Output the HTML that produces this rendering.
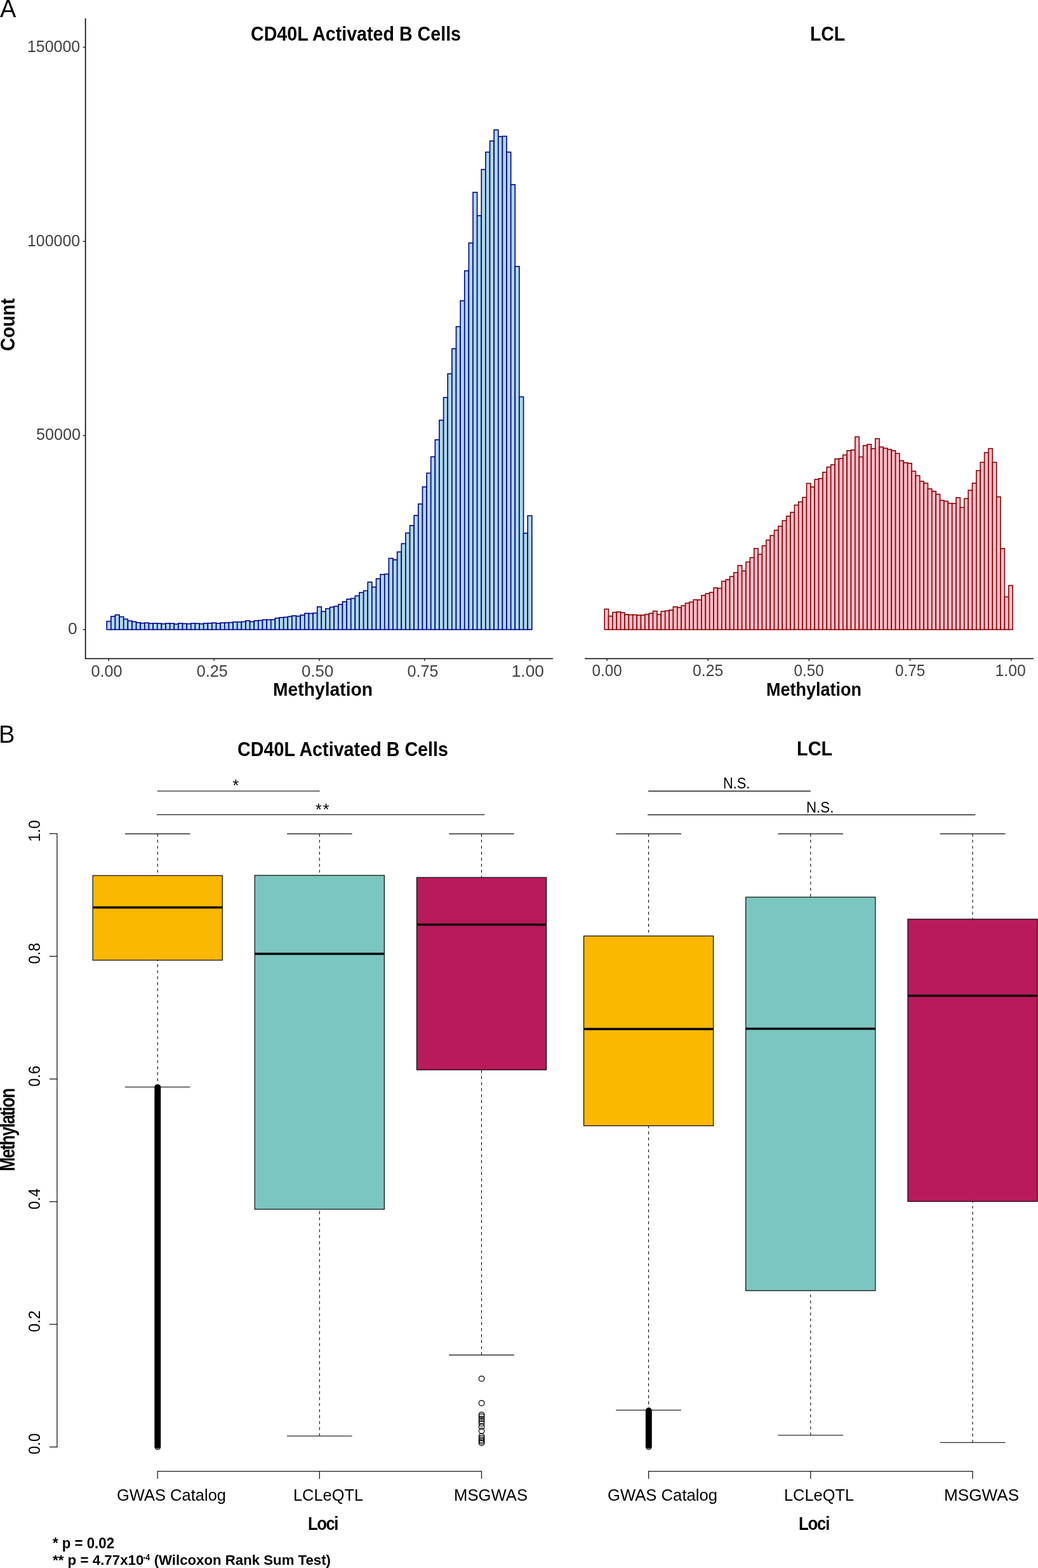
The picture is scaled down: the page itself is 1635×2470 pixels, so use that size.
<!DOCTYPE html><html><head><meta charset="utf-8"><title>Methylation figure</title><style>html,body{margin:0;padding:0;background:#fff;}svg{display:block;}text{font-family:'Liberation Sans', Arial, Helvetica, sans-serif;}</style></head><body>
<svg width="1635" height="2470" viewBox="0 0 1635 2470">
<rect width="1635" height="2470" fill="#fff"/>
<text x="0" y="26.6" font-size="38">A</text>
<path d="M134.6 29 L134.6 1037.5 L871 1037.5" fill="none" stroke="#000" stroke-width="1.6" stroke-linejoin="round"/>
<path d="M921 1037.5 L1628 1037.5" fill="none" stroke="#000" stroke-width="1.6"/>
<line x1="130.6" y1="74.4" x2="134.6" y2="74.4" stroke="#222" stroke-width="1.4"/>
<line x1="130.6" y1="380.3" x2="134.6" y2="380.3" stroke="#222" stroke-width="1.4"/>
<line x1="130.6" y1="686.2" x2="134.6" y2="686.2" stroke="#222" stroke-width="1.4"/>
<line x1="130.6" y1="991.7" x2="134.6" y2="991.7" stroke="#222" stroke-width="1.4"/>
<line x1="171.30" y1="1037.5" x2="171.30" y2="1041.3" stroke="#222" stroke-width="1.4"/>
<line x1="337.13" y1="1037.5" x2="337.13" y2="1041.3" stroke="#222" stroke-width="1.4"/>
<line x1="502.96" y1="1037.5" x2="502.96" y2="1041.3" stroke="#222" stroke-width="1.4"/>
<line x1="668.79" y1="1037.5" x2="668.79" y2="1041.3" stroke="#222" stroke-width="1.4"/>
<line x1="834.62" y1="1037.5" x2="834.62" y2="1041.3" stroke="#222" stroke-width="1.4"/>
<line x1="956.10" y1="1037.5" x2="956.10" y2="1041.3" stroke="#222" stroke-width="1.4"/>
<line x1="1115.25" y1="1037.5" x2="1115.25" y2="1041.3" stroke="#222" stroke-width="1.4"/>
<line x1="1274.40" y1="1037.5" x2="1274.40" y2="1041.3" stroke="#222" stroke-width="1.4"/>
<line x1="1433.55" y1="1037.5" x2="1433.55" y2="1041.3" stroke="#222" stroke-width="1.4"/>
<line x1="1592.70" y1="1037.5" x2="1592.70" y2="1041.3" stroke="#222" stroke-width="1.4"/>
<g fill="#ADD8E6" stroke="#00008B" stroke-width="1.6"><rect x="168.20" y="978.70" width="6.630" height="13.00"/><rect x="174.83" y="971.00" width="6.630" height="20.70"/><rect x="181.46" y="968.60" width="6.630" height="23.10"/><rect x="188.09" y="971.60" width="6.630" height="20.10"/><rect x="194.72" y="975.30" width="6.630" height="16.40"/><rect x="201.35" y="978.10" width="6.630" height="13.60"/><rect x="207.98" y="979.30" width="6.630" height="12.40"/><rect x="214.61" y="980.80" width="6.630" height="10.90"/><rect x="221.24" y="981.60" width="6.630" height="10.10"/><rect x="227.87" y="981.20" width="6.630" height="10.50"/><rect x="234.50" y="982.10" width="6.630" height="9.60"/><rect x="241.13" y="981.80" width="6.630" height="9.90"/><rect x="247.76" y="982.10" width="6.630" height="9.60"/><rect x="254.39" y="982.70" width="6.630" height="9.00"/><rect x="261.02" y="981.90" width="6.630" height="9.80"/><rect x="267.65" y="982.10" width="6.630" height="9.60"/><rect x="274.28" y="983.10" width="6.630" height="8.60"/><rect x="280.91" y="981.80" width="6.630" height="9.90"/><rect x="287.54" y="982.40" width="6.630" height="9.30"/><rect x="294.17" y="982.70" width="6.630" height="9.00"/><rect x="300.80" y="981.90" width="6.630" height="9.80"/><rect x="307.43" y="982.10" width="6.630" height="9.60"/><rect x="314.06" y="982.70" width="6.630" height="9.00"/><rect x="320.69" y="981.80" width="6.630" height="9.90"/><rect x="327.32" y="981.70" width="6.630" height="10.00"/><rect x="333.95" y="981.20" width="6.630" height="10.50"/><rect x="340.58" y="981.90" width="6.630" height="9.80"/><rect x="347.21" y="981.20" width="6.630" height="10.50"/><rect x="353.84" y="981.00" width="6.630" height="10.70"/><rect x="360.47" y="980.60" width="6.630" height="11.10"/><rect x="367.10" y="979.80" width="6.630" height="11.90"/><rect x="373.73" y="979.80" width="6.630" height="11.90"/><rect x="380.36" y="979.40" width="6.630" height="12.30"/><rect x="386.99" y="977.70" width="6.630" height="14.00"/><rect x="393.62" y="979.40" width="6.630" height="12.30"/><rect x="400.25" y="977.80" width="6.630" height="13.90"/><rect x="406.88" y="977.30" width="6.630" height="14.40"/><rect x="413.51" y="976.30" width="6.630" height="15.40"/><rect x="420.14" y="976.30" width="6.630" height="15.40"/><rect x="426.77" y="976.20" width="6.630" height="15.50"/><rect x="433.40" y="973.70" width="6.630" height="18.00"/><rect x="440.03" y="972.70" width="6.630" height="19.00"/><rect x="446.66" y="972.30" width="6.630" height="19.40"/><rect x="453.29" y="971.20" width="6.630" height="20.50"/><rect x="459.92" y="970.00" width="6.630" height="21.70"/><rect x="466.55" y="970.60" width="6.630" height="21.10"/><rect x="473.18" y="968.90" width="6.630" height="22.80"/><rect x="479.81" y="966.20" width="6.630" height="25.50"/><rect x="486.44" y="966.40" width="6.630" height="25.30"/><rect x="493.07" y="965.70" width="6.630" height="26.00"/><rect x="499.70" y="955.90" width="6.630" height="35.80"/><rect x="506.33" y="963.30" width="6.630" height="28.40"/><rect x="512.96" y="958.70" width="6.630" height="33.00"/><rect x="519.59" y="956.40" width="6.630" height="35.30"/><rect x="526.22" y="955.10" width="6.630" height="36.60"/><rect x="532.85" y="952.20" width="6.630" height="39.50"/><rect x="539.48" y="947.80" width="6.630" height="43.90"/><rect x="546.11" y="943.80" width="6.630" height="47.90"/><rect x="552.74" y="942.60" width="6.630" height="49.10"/><rect x="559.37" y="938.60" width="6.630" height="53.10"/><rect x="566.00" y="933.40" width="6.630" height="58.30"/><rect x="572.63" y="930.50" width="6.630" height="61.20"/><rect x="579.26" y="917.00" width="6.630" height="74.70"/><rect x="585.89" y="924.70" width="6.630" height="67.00"/><rect x="592.52" y="911.60" width="6.630" height="80.10"/><rect x="599.15" y="904.90" width="6.630" height="86.80"/><rect x="605.78" y="904.40" width="6.630" height="87.30"/><rect x="612.41" y="879.50" width="6.630" height="112.20"/><rect x="619.04" y="881.80" width="6.630" height="109.90"/><rect x="625.67" y="869.40" width="6.630" height="122.30"/><rect x="632.30" y="856.40" width="6.630" height="135.30"/><rect x="638.93" y="839.60" width="6.630" height="152.10"/><rect x="645.56" y="827.90" width="6.630" height="163.80"/><rect x="652.19" y="812.00" width="6.630" height="179.70"/><rect x="658.82" y="793.90" width="6.630" height="197.80"/><rect x="665.45" y="767.00" width="6.630" height="224.70"/><rect x="672.08" y="745.30" width="6.630" height="246.40"/><rect x="678.71" y="719.50" width="6.630" height="272.20"/><rect x="685.34" y="692.70" width="6.630" height="299.00"/><rect x="691.97" y="661.90" width="6.630" height="329.80"/><rect x="698.60" y="626.20" width="6.630" height="365.50"/><rect x="705.23" y="588.70" width="6.630" height="403.00"/><rect x="711.86" y="549.30" width="6.630" height="442.40"/><rect x="718.49" y="514.50" width="6.630" height="477.20"/><rect x="725.12" y="473.80" width="6.630" height="517.90"/><rect x="731.75" y="426.50" width="6.630" height="565.20"/><rect x="738.38" y="382.70" width="6.630" height="609.00"/><rect x="745.01" y="303.00" width="6.630" height="688.70"/><rect x="751.64" y="339.70" width="6.630" height="652.00"/><rect x="758.27" y="267.00" width="6.630" height="724.70"/><rect x="764.90" y="239.60" width="6.630" height="752.10"/><rect x="771.53" y="222.00" width="6.630" height="769.70"/><rect x="778.16" y="204.60" width="6.630" height="787.10"/><rect x="784.79" y="215.20" width="6.630" height="776.50"/><rect x="791.42" y="214.60" width="6.630" height="777.10"/><rect x="798.05" y="239.60" width="6.630" height="752.10"/><rect x="804.68" y="290.80" width="6.630" height="700.90"/><rect x="811.31" y="419.70" width="6.630" height="572.00"/><rect x="817.94" y="625.20" width="6.630" height="366.50"/><rect x="824.57" y="839.90" width="6.630" height="151.80"/><rect x="831.20" y="812.40" width="6.630" height="179.30"/></g>
<g fill="#FFC0CB" stroke="#8B0000" stroke-width="1.6"><rect x="952.20" y="959.50" width="6.366" height="32.20"/><rect x="958.57" y="970.60" width="6.366" height="21.10"/><rect x="964.93" y="964.50" width="6.366" height="27.20"/><rect x="971.30" y="963.90" width="6.366" height="27.80"/><rect x="977.66" y="965.10" width="6.366" height="26.60"/><rect x="984.03" y="968.10" width="6.366" height="23.60"/><rect x="990.40" y="968.50" width="6.366" height="23.20"/><rect x="996.76" y="968.50" width="6.366" height="23.20"/><rect x="1003.13" y="969.10" width="6.366" height="22.60"/><rect x="1009.49" y="969.10" width="6.366" height="22.60"/><rect x="1015.86" y="967.70" width="6.366" height="24.00"/><rect x="1022.23" y="966.20" width="6.366" height="25.50"/><rect x="1028.59" y="962.60" width="6.366" height="29.10"/><rect x="1034.96" y="968.10" width="6.366" height="23.60"/><rect x="1041.32" y="963.00" width="6.366" height="28.70"/><rect x="1047.69" y="962.20" width="6.366" height="29.50"/><rect x="1054.06" y="961.00" width="6.366" height="30.70"/><rect x="1060.42" y="955.90" width="6.366" height="35.80"/><rect x="1066.79" y="957.10" width="6.366" height="34.60"/><rect x="1073.15" y="954.10" width="6.366" height="37.60"/><rect x="1079.52" y="950.20" width="6.366" height="41.50"/><rect x="1085.89" y="948.40" width="6.366" height="43.30"/><rect x="1092.25" y="944.70" width="6.366" height="47.00"/><rect x="1098.62" y="945.00" width="6.366" height="46.70"/><rect x="1104.98" y="937.90" width="6.366" height="53.80"/><rect x="1111.35" y="935.00" width="6.366" height="56.70"/><rect x="1117.72" y="933.20" width="6.366" height="58.50"/><rect x="1124.08" y="926.10" width="6.366" height="65.60"/><rect x="1130.45" y="926.70" width="6.366" height="65.00"/><rect x="1136.81" y="915.60" width="6.366" height="76.10"/><rect x="1143.18" y="913.10" width="6.366" height="78.60"/><rect x="1149.55" y="908.20" width="6.366" height="83.50"/><rect x="1155.91" y="902.00" width="6.366" height="89.70"/><rect x="1162.28" y="890.70" width="6.366" height="101.00"/><rect x="1168.64" y="899.30" width="6.366" height="92.40"/><rect x="1175.01" y="885.30" width="6.366" height="106.40"/><rect x="1181.38" y="878.40" width="6.366" height="113.30"/><rect x="1187.74" y="864.00" width="6.366" height="127.70"/><rect x="1194.11" y="873.30" width="6.366" height="118.40"/><rect x="1200.47" y="859.70" width="6.366" height="132.00"/><rect x="1206.84" y="850.80" width="6.366" height="140.90"/><rect x="1213.21" y="843.50" width="6.366" height="148.20"/><rect x="1219.57" y="835.30" width="6.366" height="156.40"/><rect x="1225.94" y="828.90" width="6.366" height="162.80"/><rect x="1232.30" y="820.10" width="6.366" height="171.60"/><rect x="1238.67" y="813.10" width="6.366" height="178.60"/><rect x="1245.04" y="807.10" width="6.366" height="184.60"/><rect x="1251.40" y="795.60" width="6.366" height="196.10"/><rect x="1257.77" y="790.50" width="6.366" height="201.20"/><rect x="1264.13" y="783.50" width="6.366" height="208.20"/><rect x="1270.50" y="761.50" width="6.366" height="230.20"/><rect x="1276.87" y="767.20" width="6.366" height="224.50"/><rect x="1283.23" y="755.20" width="6.366" height="236.50"/><rect x="1289.60" y="753.80" width="6.366" height="237.90"/><rect x="1295.96" y="744.00" width="6.366" height="247.70"/><rect x="1302.33" y="735.70" width="6.366" height="256.00"/><rect x="1308.70" y="732.10" width="6.366" height="259.60"/><rect x="1315.06" y="722.90" width="6.366" height="268.80"/><rect x="1321.43" y="722.30" width="6.366" height="269.40"/><rect x="1327.79" y="716.60" width="6.366" height="275.10"/><rect x="1334.16" y="709.80" width="6.366" height="281.90"/><rect x="1340.53" y="708.90" width="6.366" height="282.80"/><rect x="1346.89" y="688.20" width="6.366" height="303.50"/><rect x="1353.26" y="719.70" width="6.366" height="272.00"/><rect x="1359.62" y="701.90" width="6.366" height="289.80"/><rect x="1365.99" y="700.00" width="6.366" height="291.70"/><rect x="1372.36" y="706.70" width="6.366" height="285.00"/><rect x="1378.72" y="691.00" width="6.366" height="300.70"/><rect x="1385.09" y="704.20" width="6.366" height="287.50"/><rect x="1391.45" y="706.10" width="6.366" height="285.60"/><rect x="1397.82" y="707.90" width="6.366" height="283.80"/><rect x="1404.19" y="709.80" width="6.366" height="281.90"/><rect x="1410.55" y="714.30" width="6.366" height="277.40"/><rect x="1416.92" y="725.70" width="6.366" height="266.00"/><rect x="1423.28" y="728.90" width="6.366" height="262.80"/><rect x="1429.65" y="729.80" width="6.366" height="261.90"/><rect x="1436.02" y="742.30" width="6.366" height="249.40"/><rect x="1442.38" y="749.30" width="6.366" height="242.40"/><rect x="1448.75" y="758.20" width="6.366" height="233.50"/><rect x="1455.11" y="761.20" width="6.366" height="230.50"/><rect x="1461.48" y="770.10" width="6.366" height="221.60"/><rect x="1467.85" y="773.80" width="6.366" height="217.90"/><rect x="1474.21" y="778.60" width="6.366" height="213.10"/><rect x="1480.58" y="788.20" width="6.366" height="203.50"/><rect x="1486.94" y="789.50" width="6.366" height="202.20"/><rect x="1493.31" y="792.70" width="6.366" height="199.00"/><rect x="1499.68" y="793.10" width="6.366" height="198.60"/><rect x="1506.04" y="783.80" width="6.366" height="207.90"/><rect x="1512.41" y="799.40" width="6.366" height="192.30"/><rect x="1518.77" y="785.40" width="6.366" height="206.30"/><rect x="1525.14" y="772.30" width="6.366" height="219.40"/><rect x="1531.51" y="761.20" width="6.366" height="230.50"/><rect x="1537.87" y="741.30" width="6.366" height="250.40"/><rect x="1544.24" y="728.30" width="6.366" height="263.40"/><rect x="1550.60" y="713.00" width="6.366" height="278.70"/><rect x="1556.97" y="706.60" width="6.366" height="285.10"/><rect x="1563.34" y="728.30" width="6.366" height="263.40"/><rect x="1569.70" y="782.70" width="6.366" height="209.00"/><rect x="1576.07" y="864.20" width="6.366" height="127.50"/><rect x="1582.43" y="940.30" width="6.366" height="51.40"/><rect x="1588.80" y="922.30" width="6.366" height="69.40"/></g>
<text x="-2" y="1170.2" font-size="38">B</text>
<path d="M89.9 1313.20 L89.9 2279.40" fill="none" stroke="#1a1a1a" stroke-width="1.3"/>
<line x1="78" y1="2279.40" x2="90.5" y2="2279.40" stroke="#1a1a1a" stroke-width="1.3"/>
<line x1="78" y1="2086.16" x2="90.5" y2="2086.16" stroke="#1a1a1a" stroke-width="1.3"/>
<line x1="78" y1="1892.92" x2="90.5" y2="1892.92" stroke="#1a1a1a" stroke-width="1.3"/>
<line x1="78" y1="1699.68" x2="90.5" y2="1699.68" stroke="#1a1a1a" stroke-width="1.3"/>
<line x1="78" y1="1506.44" x2="90.5" y2="1506.44" stroke="#1a1a1a" stroke-width="1.3"/>
<line x1="78" y1="1313.20" x2="90.5" y2="1313.20" stroke="#1a1a1a" stroke-width="1.3"/>
<line x1="248.2" y1="1313.5" x2="248.2" y2="1379.2" stroke="#000" stroke-width="1.1" stroke-dasharray="4.4 5.05"/>
<line x1="248.2" y1="1712.4" x2="248.2" y2="1512.5" stroke="#000" stroke-width="1.1" stroke-dasharray="4.4 5.05"/>
<line x1="196.90" y1="1313.5" x2="299.50" y2="1313.5" stroke="#2a2a2a" stroke-width="1.3"/>
<line x1="196.90" y1="1712.4" x2="299.50" y2="1712.4" stroke="#2a2a2a" stroke-width="1.3"/>
<rect x="146.15" y="1379.2" width="204.10" height="133.30" fill="#FAB800" stroke="#000" stroke-width="1.15"/>
<line x1="146.15" y1="1429.5" x2="350.25" y2="1429.5" stroke="#000" stroke-width="3.5"/>
<line x1="503.3" y1="1313.5" x2="503.3" y2="1378.9" stroke="#000" stroke-width="1.1" stroke-dasharray="4.4 5.05"/>
<line x1="503.3" y1="2262.1" x2="503.3" y2="1904.9" stroke="#000" stroke-width="1.1" stroke-dasharray="4.4 5.05"/>
<line x1="452.00" y1="1313.5" x2="554.60" y2="1313.5" stroke="#2a2a2a" stroke-width="1.3"/>
<line x1="452.00" y1="2262.1" x2="554.60" y2="2262.1" stroke="#2a2a2a" stroke-width="1.3"/>
<rect x="401.25" y="1378.9" width="204.10" height="526.00" fill="#7BC6BF" stroke="#000" stroke-width="1.15"/>
<line x1="401.25" y1="1502.6" x2="605.35" y2="1502.6" stroke="#000" stroke-width="3.5"/>
<line x1="758.5" y1="1313.5" x2="758.5" y2="1382.2" stroke="#000" stroke-width="1.1" stroke-dasharray="4.4 5.05"/>
<line x1="758.5" y1="2134.5" x2="758.5" y2="1685.3" stroke="#000" stroke-width="1.1" stroke-dasharray="4.4 5.05"/>
<line x1="707.20" y1="1313.5" x2="809.80" y2="1313.5" stroke="#2a2a2a" stroke-width="1.3"/>
<line x1="707.20" y1="2134.5" x2="809.80" y2="2134.5" stroke="#2a2a2a" stroke-width="1.3"/>
<rect x="656.45" y="1382.2" width="204.10" height="303.10" fill="#B81A5C" stroke="#000" stroke-width="1.15"/>
<line x1="656.45" y1="1456.5" x2="860.55" y2="1456.5" stroke="#000" stroke-width="3.5"/>
<line x1="1021.6" y1="1313.5" x2="1021.6" y2="1474.4" stroke="#000" stroke-width="1.1" stroke-dasharray="4.4 5.05"/>
<line x1="1021.6" y1="2221.4" x2="1021.6" y2="1773.4" stroke="#000" stroke-width="1.1" stroke-dasharray="4.4 5.05"/>
<line x1="970.30" y1="1313.5" x2="1072.90" y2="1313.5" stroke="#2a2a2a" stroke-width="1.3"/>
<line x1="970.30" y1="2221.4" x2="1072.90" y2="2221.4" stroke="#2a2a2a" stroke-width="1.3"/>
<rect x="919.55" y="1474.4" width="204.10" height="299.00" fill="#FAB800" stroke="#000" stroke-width="1.15"/>
<line x1="919.55" y1="1621.0" x2="1123.65" y2="1621.0" stroke="#000" stroke-width="3.5"/>
<line x1="1276.8" y1="1313.5" x2="1276.8" y2="1413.2" stroke="#000" stroke-width="1.1" stroke-dasharray="4.4 5.05"/>
<line x1="1276.8" y1="2260.9" x2="1276.8" y2="2033.1" stroke="#000" stroke-width="1.1" stroke-dasharray="4.4 5.05"/>
<line x1="1225.50" y1="1313.5" x2="1328.10" y2="1313.5" stroke="#2a2a2a" stroke-width="1.3"/>
<line x1="1225.50" y1="2260.9" x2="1328.10" y2="2260.9" stroke="#2a2a2a" stroke-width="1.3"/>
<rect x="1174.75" y="1413.2" width="204.10" height="619.90" fill="#7BC6BF" stroke="#000" stroke-width="1.15"/>
<line x1="1174.75" y1="1620.4" x2="1378.85" y2="1620.4" stroke="#000" stroke-width="3.5"/>
<line x1="1532.0" y1="1313.5" x2="1532.0" y2="1447.9" stroke="#000" stroke-width="1.1" stroke-dasharray="4.4 5.05"/>
<line x1="1532.0" y1="2272.4" x2="1532.0" y2="1892.6" stroke="#000" stroke-width="1.1" stroke-dasharray="4.4 5.05"/>
<line x1="1480.70" y1="1313.5" x2="1583.30" y2="1313.5" stroke="#2a2a2a" stroke-width="1.3"/>
<line x1="1480.70" y1="2272.4" x2="1583.30" y2="2272.4" stroke="#2a2a2a" stroke-width="1.3"/>
<rect x="1429.95" y="1447.9" width="204.10" height="444.70" fill="#B81A5C" stroke="#000" stroke-width="1.15"/>
<line x1="1429.95" y1="1568.5" x2="1634.05" y2="1568.5" stroke="#000" stroke-width="3.5"/>
<g fill="none" stroke="#000" stroke-width="1.25">
<rect x="243.35" y="1707.9" width="9.9" height="576.1" rx="4.95" fill="#000" stroke="none"/>
<path d="M245.6 2281.3 Q248.3 2283.0 251.0 2281.3" stroke="#fff" stroke-width="0.9"/>
<rect x="1016.9" y="2217.2" width="9.9" height="66.8" rx="4.95" fill="#000" stroke="none"/>
<path d="M1019.2 2281.4 Q1021.85 2283.0 1024.5 2281.4" stroke="#fff" stroke-width="0.9"/>
<circle cx="758.6" cy="2171.8" r="4.3"/>
<circle cx="758.6" cy="2210.3" r="4.3"/>
<circle cx="758.6" cy="2228.6" r="4.3"/>
<circle cx="758.6" cy="2231.5" r="4.3"/>
<circle cx="758.6" cy="2235.1" r="4.3"/>
<circle cx="758.6" cy="2238.4" r="4.3"/>
<circle cx="758.6" cy="2242.2" r="4.3"/>
<circle cx="758.6" cy="2247.5" r="4.3"/>
<circle cx="758.6" cy="2254.0" r="4.3"/>
<circle cx="758.6" cy="2262.3" r="4.3"/>
<circle cx="758.6" cy="2265.3" r="4.3"/>
<circle cx="758.6" cy="2268.2" r="4.3"/>
<circle cx="758.6" cy="2270.6" r="4.3"/>
<circle cx="758.6" cy="2273.0" r="4.3"/>
</g>
<path d="M248.2 2329.6 L248.2 2317.7 L758.5 2317.7 L758.5 2329.6 M503.3 2317.7 L503.3 2329.6" fill="none" stroke="#1a1a1a" stroke-width="1.3"/>
<path d="M1021.6 2329.6 L1021.6 2317.7 L1532.0 2317.7 L1532.0 2329.6 M1276.8 2317.7 L1276.8 2329.6" fill="none" stroke="#1a1a1a" stroke-width="1.3"/>
<g stroke="#222" stroke-width="1.4">
<line x1="247.8" y1="1246.1" x2="503.6" y2="1246.1"/>
<line x1="247.0" y1="1283.4" x2="763.6" y2="1283.4"/>
<line x1="1021.1" y1="1246.2" x2="1276.8" y2="1246.2"/>
<line x1="1020.1" y1="1283.5" x2="1536.3" y2="1283.5"/>
</g>
<text x="371.3" y="1245.6" font-size="26" text-anchor="middle">*</text>
<text x="508.4" y="1283.6" font-size="26" text-anchor="middle" letter-spacing="1.6">**</text>
<text x="225.6" y="2457.9" font-size="15" font-weight="bold" textLength="10.6" lengthAdjust="spacingAndGlyphs">-4</text>
<text x="395.00" y="64.4" font-size="31.2" font-weight="bold" textLength="331.01" lengthAdjust="spacingAndGlyphs">CD40L Activated B Cells</text>
<text x="1276.00" y="64.1" font-size="31.2" font-weight="bold" textLength="55.18" lengthAdjust="spacingAndGlyphs">LCL</text>
<text x="43.00" y="82.3" font-size="25" fill="#404040" textLength="83.16" lengthAdjust="spacingAndGlyphs">150000</text>
<text x="43.00" y="387.9" font-size="25" fill="#404040" textLength="83.16" lengthAdjust="spacingAndGlyphs">100000</text>
<text x="57.00" y="693.3" font-size="25" fill="#404040" textLength="70.11" lengthAdjust="spacingAndGlyphs">50000</text>
<text x="107.00" y="999.0" font-size="25" fill="#404040" textLength="14.62" lengthAdjust="spacingAndGlyphs">0</text>
<text x="143.50" y="1065.5" font-size="25" fill="#404040" textLength="49.10" lengthAdjust="spacingAndGlyphs">0.00</text>
<text x="309.80" y="1065.5" font-size="25" fill="#404040" textLength="49.12" lengthAdjust="spacingAndGlyphs">0.25</text>
<text x="475.10" y="1065.5" font-size="25" fill="#404040" textLength="50.14" lengthAdjust="spacingAndGlyphs">0.50</text>
<text x="641.40" y="1065.5" font-size="25" fill="#404040" textLength="49.10" lengthAdjust="spacingAndGlyphs">0.75</text>
<text x="805.70" y="1065.5" font-size="25" fill="#404040" textLength="51.26" lengthAdjust="spacingAndGlyphs">1.00</text>
<text x="932.50" y="1065.3" font-size="25" fill="#404040" textLength="47.12" lengthAdjust="spacingAndGlyphs">0.00</text>
<text x="1091.00" y="1065.3" font-size="25" fill="#404040" textLength="48.17" lengthAdjust="spacingAndGlyphs">0.25</text>
<text x="1250.50" y="1065.3" font-size="25" fill="#404040" textLength="47.10" lengthAdjust="spacingAndGlyphs">0.50</text>
<text x="1410.00" y="1065.3" font-size="25" fill="#404040" textLength="47.10" lengthAdjust="spacingAndGlyphs">0.75</text>
<text x="1567.50" y="1065.3" font-size="25" fill="#404040" textLength="48.22" lengthAdjust="spacingAndGlyphs">1.00</text>
<text x="430.00" y="1096.0" font-size="30.2" font-weight="bold" textLength="157.12" lengthAdjust="spacingAndGlyphs">Methylation</text>
<text x="1207.00" y="1096.0" font-size="30.2" font-weight="bold" textLength="150.11" lengthAdjust="spacingAndGlyphs">Methylation</text>
<text transform="translate(22.8 553.00) rotate(-90)" x="0" y="0" font-size="31.7" font-weight="bold" textLength="82.96" lengthAdjust="spacingAndGlyphs">Count</text>
<text x="374.00" y="1190.6" font-size="31.2" font-weight="bold" textLength="332.03" lengthAdjust="spacingAndGlyphs">CD40L Activated B Cells</text>
<text x="1255.00" y="1190.3" font-size="31.2" font-weight="bold" textLength="56.17" lengthAdjust="spacingAndGlyphs">LCL</text>
<text x="1139.00" y="1241.9" font-size="23.8" textLength="42.36" lengthAdjust="spacingAndGlyphs">N.S.</text>
<text x="1270.00" y="1279.8" font-size="23.8" textLength="43.38" lengthAdjust="spacingAndGlyphs">N.S.</text>
<text transform="translate(63.0 2291.00) rotate(-90)" x="0" y="0" font-size="26.5" textLength="33.14" lengthAdjust="spacingAndGlyphs">0.0</text>
<text transform="translate(63.0 2098.60) rotate(-90)" x="0" y="0" font-size="26.5" textLength="34.25" lengthAdjust="spacingAndGlyphs">0.2</text>
<text transform="translate(63.0 1905.20) rotate(-90)" x="0" y="0" font-size="26.5" textLength="33.11" lengthAdjust="spacingAndGlyphs">0.4</text>
<text transform="translate(63.0 1711.80) rotate(-90)" x="0" y="0" font-size="26.5" textLength="33.18" lengthAdjust="spacingAndGlyphs">0.6</text>
<text transform="translate(63.0 1518.40) rotate(-90)" x="0" y="0" font-size="26.5" textLength="33.14" lengthAdjust="spacingAndGlyphs">0.8</text>
<text transform="translate(63.0 1326.00) rotate(-90)" x="0" y="0" font-size="26.5" textLength="34.25" lengthAdjust="spacingAndGlyphs">1.0</text>
<text transform="translate(22.8 1845.00) rotate(-90) scale(0.82 1)" x="0" y="0" font-size="32.4" font-weight="bold" textLength="159.90" lengthAdjust="spacing">Methylation</text>
<text x="184.00" y="2364.0" font-size="24.9" textLength="172.00" lengthAdjust="spacingAndGlyphs">GWAS Catalog</text>
<text x="462.00" y="2364.0" font-size="24.9" textLength="110.10" lengthAdjust="spacingAndGlyphs">LCLeQTL</text>
<text x="715.00" y="2364.0" font-size="24.9" textLength="116.05" lengthAdjust="spacingAndGlyphs">MSGWAS</text>
<text x="957.00" y="2364.0" font-size="24.9" textLength="173.03" lengthAdjust="spacingAndGlyphs">GWAS Catalog</text>
<text x="1235.00" y="2364.0" font-size="24.9" textLength="110.11" lengthAdjust="spacingAndGlyphs">LCLeQTL</text>
<text x="1487.00" y="2364.0" font-size="24.9" textLength="118.12" lengthAdjust="spacingAndGlyphs">MSGWAS</text>
<text transform="translate(485.00 2409.6) scale(0.85 1)" x="0" y="0" font-size="30.3" font-weight="bold" textLength="56.86" lengthAdjust="spacing">Loci</text>
<text transform="translate(1258.00 2409.8) scale(0.85 1)" x="0" y="0" font-size="30.3" font-weight="bold" textLength="58.03" lengthAdjust="spacing">Loci</text>
<text x="83.00" y="2438.5" font-size="23.0" font-weight="bold" textLength="97.00" lengthAdjust="spacingAndGlyphs">* p = 0.02</text>
<text x="83.00" y="2464.7" font-size="22.6" font-weight="bold" textLength="143.48" lengthAdjust="spacingAndGlyphs">** p = 4.77x10</text>
<text x="242.70" y="2464.7" font-size="22.6" font-weight="bold" textLength="278.31" lengthAdjust="spacingAndGlyphs">(Wilcoxon Rank Sum Test)</text>
</svg></body></html>
